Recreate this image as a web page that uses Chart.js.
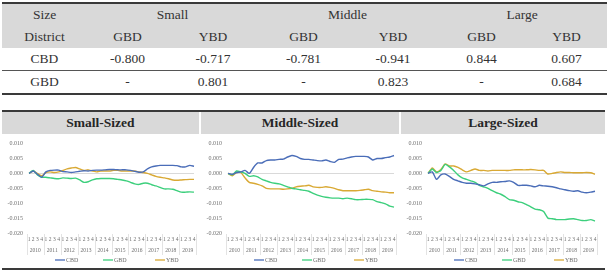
<!DOCTYPE html>
<html>
<head>
<meta charset="utf-8">
<script src="https://cdn.jsdelivr.net/npm/chart.js@4"></script>
<style>
  body { margin:0; width:609px; height:274px; background:#fff; position:relative; overflow:hidden;
         font-family:"Liberation Serif","DejaVu Serif",serif; color:#333; }
  #tbl { position:absolute; left:2px; top:2px; width:605px; border-collapse:collapse; table-layout:fixed;
         font-family:inherit; font-size:13.5px; border-top:2px solid #3a3a3a; border-bottom:2px solid #3a3a3a; }
  #tbl td { text-align:center; padding:0; height:22px; }
  #tbl tr.hd td { background:#d9d9d9; }
  #tbl tr.r2 td { border-top:1px solid #555; }
  #tbl td.grp { background:linear-gradient(#444,#444) no-repeat right bottom / calc(100% - 8px) 1px, #d9d9d9; }
  .panel { position:absolute; top:112px; height:157px; }
  .ttl { height:22px; background:#d9d9d9; text-align:center; font-size:13.5px; font-weight:bold;
         line-height:22px; color:#262626; }
  .rule { position:absolute; left:2px; width:603px; height:2px; background:#3a3a3a; }
</style>
</head>
<body>
<table id="tbl">
  <colgroup>
    <col style="width:85px"><col style="width:81px"><col style="width:90px">
    <col style="width:91px"><col style="width:88px"><col style="width:89px"><col style="width:81px">
  </colgroup>
  <tr class="hd"><td>Size</td><td class="grp" colspan="2">Small</td><td class="grp" colspan="2">Middle</td><td class="grp" colspan="2">Large</td></tr>
  <tr class="hd"><td>District</td><td>GBD</td><td>YBD</td><td>GBD</td><td>YBD</td><td>GBD</td><td>YBD</td></tr>
  <tr><td>CBD</td><td>-0.800</td><td>-0.717</td><td>-0.781</td><td>-0.941</td><td>0.844</td><td>0.607</td></tr>
  <tr class="r2"><td>GBD</td><td>-</td><td>0.801</td><td>-</td><td>0.823</td><td>-</td><td>0.684</td></tr>
</table>

<div class="rule" style="top:110px"></div>
<div class="panel" style="left:2px;width:197px"><div class="ttl">Small-Sized</div><canvas id="c1" width="197" height="135"></canvas></div>
<div class="panel" style="left:201px;width:198px"><div class="ttl">Middle-Sized</div><canvas id="c2" width="198" height="135"></canvas></div>
<div class="panel" style="left:401px;width:204px"><div class="ttl">Large-Sized</div><canvas id="c3" width="204" height="135"></canvas></div>
<div class="rule" style="top:268px"></div>

<script>
const years = ['2010','2011','2012','2013','2014','2015','2016','2017','2018','2019'];
const quarters = ['1','2','3','4'];
const seriesNames = ['CBD','GBD','YBD'];
const seriesColors = ['#4a6db8','#3ccf7c','#d9a934'];

const smallCBD = [0,0.0008,-0.0003,-0.0013, 0.0005,0.001,0.0011,0.0011, 0.0006,0.0005,0.0003,0.0005,
  0.0007,0.0009,0.0008,0.001, 0.0011,0.0011,0.0012,0.0013, 0.0013,0.0012,0.0012,0.0012,
  0.001,0.0007,0.0004,0.0005, 0.0015,0.0022,0.0025,0.0027, 0.0027,0.0027,0.0027,0.0026,
  0.0022,0.0022,0.0027,0.0024];
const smallGBD = [0,0.001,-0.0005,-0.0013, -0.0013,-0.0015,-0.0017,-0.0018, -0.0015,-0.0016,-0.0017,-0.0016,
  -0.0022,-0.003,-0.0028,-0.0022, -0.0018,-0.0017,-0.0017,-0.0017, -0.0018,-0.002,-0.0022,-0.0025,
  -0.003,-0.0035,-0.0037,-0.0033, -0.0033,-0.0038,-0.0042,-0.0047, -0.0052,-0.0052,-0.0053,-0.0058,
  -0.0063,-0.0063,-0.0062,-0.0063];
const smallYBD = [0,0.0008,0,-0.0008, 0.0003,0.0005,0.0003,0.0005, 0.001,0.0015,0.0018,0.002,
  0.0015,0.001,0.0012,0.0008, 0.0005,0.0008,0.0008,0.0008, 0.001,0.001,0.0008,0.0008,
  0.0008,0.0008,0.0005,0.0003, 0,-0.0005,-0.001,-0.0013, -0.0015,-0.0018,-0.0022,-0.0023,
  -0.0022,-0.0021,-0.002,-0.002];

const midCBD = [0,-0.0003,0.0003,0.0005, 0.001,0,0.002,0.0035, 0.0035,0.0043,0.0045,0.0045,
  0.0047,0.0048,0.0055,0.006, 0.0057,0.005,0.0047,0.0047, 0.0045,0.0043,0.0042,0.0045,
  0.004,0.0037,0.0047,0.0048, 0.0052,0.0055,0.0057,0.0057, 0.0057,0.0055,0.0045,0.005,
  0.005,0.0053,0.0055,0.006];
const midGBD = [0,-0.0005,0.0008,0.0005, 0,-0.001,-0.0008,-0.0012, -0.002,-0.0025,-0.003,-0.0033,
  -0.0035,-0.004,-0.0045,-0.005, -0.0052,-0.0055,-0.0057,-0.006, -0.0067,-0.0073,-0.0077,-0.008,
  -0.0082,-0.0083,-0.0083,-0.0085, -0.0083,-0.0085,-0.0088,-0.0088, -0.0087,-0.0087,-0.0088,-0.0095,
  -0.0098,-0.0102,-0.011,-0.0113];
const midYBD = [0,-0.0008,0.0003,0.0003, -0.0015,-0.003,-0.0033,-0.0037, -0.0042,-0.005,-0.0052,-0.0052,
  -0.0052,-0.0053,-0.0052,-0.005, -0.0045,-0.0043,-0.0042,-0.004, -0.0045,-0.0047,-0.0047,-0.0045,
  -0.0047,-0.005,-0.0055,-0.0058, -0.0058,-0.0058,-0.0058,-0.0057, -0.0055,-0.0053,-0.0058,-0.006,
  -0.0062,-0.0063,-0.0065,-0.0065];

const largeCBD = [0,0.0005,-0.002,-0.0005, -0.0002,-0.001,-0.002,-0.0025, -0.003,-0.0033,-0.0033,-0.0035,
  -0.0038,-0.0042,-0.0035,-0.003, -0.003,-0.0028,-0.0027,-0.0025, -0.003,-0.004,-0.004,-0.004,
  -0.0042,-0.0045,-0.004,-0.0042, -0.0043,-0.0045,-0.0048,-0.0052, -0.0055,-0.0058,-0.006,-0.0058,
  -0.0063,-0.0065,-0.0063,-0.006];
const largeGBD = [0,0.0015,0.0003,0.001, 0.003,0.0022,0.001,-0.0005, -0.0015,-0.002,-0.0025,-0.003,
  -0.004,-0.0045,-0.005,-0.0058, -0.0065,-0.007,-0.0078,-0.0088, -0.009,-0.0095,-0.0098,-0.0105,
  -0.0112,-0.012,-0.0122,-0.0128, -0.015,-0.0152,-0.0155,-0.0155, -0.0155,-0.0153,-0.0152,-0.0155,
  -0.0158,-0.0158,-0.0155,-0.016];
const largeYBD = [0,0.0018,0.0005,0.0013, 0.0032,0.0025,0.0025,0.002, 0.0012,0.0005,0.001,0.0015,
  0.001,0.001,0.0008,0.001, 0.001,0.001,0.001,0.001, 0.0012,0.0012,0.0012,0.0012,
  0.0013,0.0012,0.001,0.001, -0.0002,0,0.0003,0.0005, 0.0003,0.0003,0.0002,0.0002,
  0.0002,0.0003,0.0002,-0.0003];

const labels = years.flatMap(() => quarters);
const legendOffsets = [26, 74, 126];
const fontFamily = '"Liberation Serif", "DejaVu Serif", serif';
const tickColor = '#6e6e6e';

// year labels, year separators and legend under the axis
const deco = {
  id: 'deco',
  afterDraw(chart) {
    const { ctx, chartArea, scales } = chart;
    const x = scales.x;
    const step = x.getPixelForValue(1) - x.getPixelForValue(0);
    ctx.save();
    ctx.font = '5.5px ' + fontFamily;
    ctx.fillStyle = tickColor;
    ctx.textAlign = 'center';
    ctx.textBaseline = 'middle';
    years.forEach((yr, i) => {
      const a = x.getPixelForValue(i * 4), b = x.getPixelForValue(i * 4 + 3);
      ctx.fillText(yr, (a + b) / 2, chartArea.bottom + 18);
    });
    ctx.strokeStyle = '#dcdcdc';
    ctx.lineWidth = 0.8;
    for (let i = 0; i <= years.length; i++) {
      const px = Math.round(x.getPixelForValue(i * 4) - step / 2) + 0.5;
      ctx.beginPath();
      ctx.moveTo(px, chartArea.bottom + 1);
      ctx.lineTo(px, chartArea.bottom + 22);
      ctx.stroke();
    }
    ctx.font = '6px ' + fontFamily;
    chart.data.datasets.forEach((ds, i) => {
      const lx = chartArea.left + legendOffsets[i];
      const ly = chartArea.bottom + 27;
      ctx.strokeStyle = ds.borderColor;
      ctx.lineWidth = 1.3;
      ctx.beginPath(); ctx.moveTo(lx, ly); ctx.lineTo(lx + 10, ly); ctx.stroke();
      ctx.textAlign = 'left';
      ctx.fillText(ds.label, lx + 11, ly);
    });
    ctx.restore();
  }
};

function makeChart(id, values, padRight) {
  new Chart(document.getElementById(id), {
    type: 'line',
    data: {
      labels: labels,
      datasets: values.map((v, i) => ({
        label: seriesNames[i],
        data: v,
        borderColor: seriesColors[i],
        borderWidth: 1.4,
        pointRadius: 0,
        tension: 0.2,
        fill: false
      }))
    },
    options: {
      responsive: false,
      animation: false,
      layout: { padding: { top: 8, right: padRight, bottom: 0, left: 0 } },
      plugins: { legend: { display: false }, tooltip: { enabled: false } },
      scales: {
        x: {
          grid: { display: false, drawTicks: false },
          border: { display: false },
          ticks: { autoSkip: false, minRotation: 0, maxRotation: 0, padding: 3, color: tickColor,
                   font: { family: fontFamily, size: 5.5 } },
          afterFit: s => { s.height = 36; }
        },
        y: {
          min: -0.02, max: 0.01,
          grid: { drawTicks: false, color: c => Math.abs(c.tick.value) < 1e-9 ? '#d9d9d9' : 'rgba(0,0,0,0)' },
          border: { display: false },
          ticks: { stepSize: 0.005, padding: 6, color: tickColor, font: { family: fontFamily, size: 6 },
                   callback: v => v.toFixed(3) },
          afterFit: s => { s.width = 27; }
        }
      }
    },
    plugins: [deco]
  });
}

makeChart('c1', [smallCBD, smallGBD, smallYBD], 5);
makeChart('c2', [midCBD, midGBD, midYBD], 5);
makeChart('c3', [largeCBD, largeGBD, largeYBD], 10);
</script>
</body>
</html>
